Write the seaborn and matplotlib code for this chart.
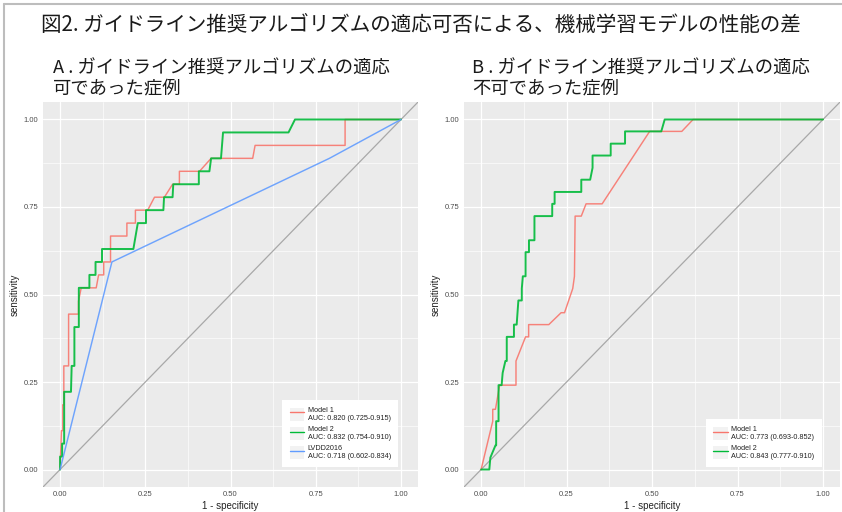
import matplotlib
matplotlib.use("Agg")
import matplotlib.pyplot as plt
import seaborn as sns
import pandas as pd
from matplotlib.lines import Line2D
from matplotlib.patches import Patch


# Titles
main_title = "図2. ガイドライン推奨アルゴリズムの適応可否による、機械学習モデルの性能の差"
title_a = ["A . ガイドライン推奨アルゴリズムの適応", "可であった症例"]
title_b = ["B . ガイドライン推奨アルゴリズムの適応", "不可であった症例"]

# Panel A curves (1 - specificity, sensitivity)
a_m1_fpr = [0, 0.004, 0.008, 0.008, 0.011, 0.011, 0.025, 0.025, 0.054, 0.054,
            0.062, 0.106, 0.113, 0.128, 0.128, 0.148, 0.148, 0.196, 0.196, 0.221,
            0.221, 0.257, 0.277, 0.306, 0.330, 0.350, 0.350, 0.409, 0.443, 0.565,
            0.572, 0.836, 0.836, 1.0]
a_m1_tpr = [0, 0.111, 0.111, 0.185, 0.185, 0.296, 0.296, 0.444, 0.444, 0.481,
            0.519, 0.519, 0.556, 0.556, 0.593, 0.593, 0.667, 0.667, 0.704, 0.704,
            0.741, 0.741, 0.778, 0.778, 0.815, 0.815, 0.852, 0.852, 0.889, 0.889,
            0.926, 0.926, 1.0, 1.0]
a_m2_fpr = [0, 0, 0.006, 0.006, 0.012, 0.012, 0.032, 0.034, 0.042, 0.042,
            0.055, 0.055, 0.086, 0.086, 0.104, 0.104, 0.123, 0.123, 0.215, 0.228,
            0.252, 0.252, 0.303, 0.305, 0.330, 0.332, 0.407, 0.407, 0.438, 0.443,
            0.472, 0.475, 0.478, 0.670, 0.689, 1.0]
a_m2_tpr = [0, 0.037, 0.037, 0.074, 0.074, 0.222, 0.222, 0.296, 0.296, 0.407,
            0.407, 0.519, 0.519, 0.556, 0.556, 0.593, 0.593, 0.630, 0.630, 0.704,
            0.704, 0.741, 0.741, 0.778, 0.778, 0.815, 0.815, 0.852, 0.852, 0.889,
            0.889, 0.926, 0.963, 0.963, 1.0, 1.0]
a_lvdd_fpr = [0, 0.152, 0.79, 1.0]
a_lvdd_tpr = [0, 0.593, 0.889, 1.0]

# Panel B curves
b_m1_fpr = [0, 0.034, 0.034, 0.042, 0.054, 0.102, 0.102, 0.130, 0.139, 0.139,
            0.198, 0.234, 0.244, 0.268, 0.273, 0.275, 0.293, 0.307, 0.354, 0.493,
            0.587, 0.620, 1.0]
b_m1_tpr = [0, 0.138, 0.172, 0.172, 0.241, 0.241, 0.310, 0.379, 0.379, 0.414,
            0.414, 0.448, 0.448, 0.517, 0.552, 0.724, 0.724, 0.759, 0.759, 0.966,
            0.966, 1.0, 1.0]
b_m2_fpr = [0, 0.024, 0.027, 0.042, 0.044, 0.044, 0.051, 0.051, 0.060, 0.063,
            0.071, 0.075, 0.075, 0.096, 0.096, 0.104, 0.109, 0.119, 0.119, 0.122,
            0.130, 0.130, 0.140, 0.140, 0.156, 0.156, 0.208, 0.208, 0.215, 0.215,
            0.293, 0.293, 0.319, 0.326, 0.326, 0.379, 0.379, 0.421, 0.421, 0.527,
            0.537, 1.0]
b_m2_tpr = [0, 0, 0.034, 0.069, 0.069, 0.138, 0.138, 0.241, 0.241, 0.276,
            0.310, 0.310, 0.379, 0.379, 0.414, 0.414, 0.483, 0.483, 0.517, 0.552,
            0.552, 0.621, 0.621, 0.655, 0.655, 0.724, 0.724, 0.759, 0.759, 0.793,
            0.793, 0.828, 0.828, 0.862, 0.897, 0.897, 0.931, 0.931, 0.966, 0.966,
            1.0, 1.0]

# Legend labels
a_labels = ["Model 1\nAUC: 0.820 (0.725-0.915)",
            "Model 2\nAUC: 0.832 (0.754-0.910)",
            "LVDD2016\nAUC: 0.718 (0.602-0.834)"]
b_labels = ["Model 1\nAUC: 0.773 (0.693-0.852)",
            "Model 2\nAUC: 0.843 (0.777-0.910)"]

ticks = [0.00, 0.25, 0.50, 0.75, 1.00]
tick_labels = ["0.00", "0.25", "0.50", "0.75", "1.00"]
minor_ticks = [0.125, 0.375, 0.625, 0.875]

colors = {"Model 1": "#F8766D", "Model 2": "#00BA38", "LVDD2016": "#619CFF"}
widths = {"Model 1": 1.05, "Model 2": 1.4, "LVDD2016": 1.05}


def long_frame(curves):
    frames = []
    for name, fpr, tpr in curves:
        frames.append(pd.DataFrame({"fpr": fpr, "tpr": tpr, "model": name}))
    return pd.concat(frames, ignore_index=True)


def draw_panel(ax, data, labels, legend_x):
    ax.set_facecolor("#EBEBEB")
    ax.axline((0, 0), (1, 1), color="#A8A8A8", lw=0.9, zorder=1)
    names = list(data["model"].unique())
    for n in names:
        sub = data[data["model"] == n]
        sns.lineplot(data=sub, x="fpr", y="tpr", color=colors[n], sort=False,
                     estimator=None, lw=widths[n], alpha=0.9, ax=ax, zorder=3)
    ax.set_xlim(-0.05, 1.05)
    ax.set_ylim(-0.05, 1.05)
    ax.set_xticks(ticks)
    ax.set_xticklabels(tick_labels)
    ax.set_yticks(ticks)
    ax.set_yticklabels(tick_labels)
    ax.set_xticks(minor_ticks, minor=True)
    ax.set_yticks(minor_ticks, minor=True)
    ax.grid(which="major", color="white", lw=0.9)
    ax.grid(which="minor", color="white", lw=0.45)
    ax.set_axisbelow(True)
    ax.tick_params(which="major", length=2, width=0.7, color="#333333",
                   labelsize=5.5, labelcolor="#4D4D4D", pad=1.2)
    ax.tick_params(which="minor", length=0)
    for s in ax.spines.values():
        s.set_visible(False)
    ax.set_xlabel("1 - specificity", fontsize=7, color="#222222", labelpad=1.5)
    ax.set_ylabel("sensitivity", fontsize=7, color="#222222", labelpad=3)

    handles = [(Patch(facecolor="#F2F2F2", edgecolor="none"),
                Line2D([], [], color=colors[n], lw=1.0)) for n in names]
    leg = ax.legend(handles, labels, loc="lower right",
                    bbox_to_anchor=(legend_x, 0.052), borderaxespad=0,
                    fontsize=5.2, frameon=True, fancybox=False,
                    handlelength=2.0, handleheight=2.3, handletextpad=0.5,
                    labelspacing=0.6, borderpad=1.0)
    leg.get_frame().set_facecolor("white")
    leg.get_frame().set_edgecolor("none")
    leg.get_frame().set_alpha(1)
    for t in leg.get_texts():
        t.set_color("#222222")
        t.set_linespacing(1.15)


sns.set_theme(style="darkgrid")
plt.rcParams["font.family"] = ["Liberation Sans", "Noto Sans CJK JP", "DejaVu Sans"]

fig = plt.figure(figsize=(8.42, 5.12), dpi=100)
ax_a = fig.add_axes([0.0511, 0.0488, 0.4454, 0.752])
ax_b = fig.add_axes([0.5511, 0.0488, 0.4466, 0.752])

data_a = long_frame([("Model 1", a_m1_fpr, a_m1_tpr),
                     ("Model 2", a_m2_fpr, a_m2_tpr),
                     ("LVDD2016", a_lvdd_fpr, a_lvdd_tpr)])
data_b = long_frame([("Model 1", b_m1_fpr, b_m1_tpr),
                     ("Model 2", b_m2_fpr, b_m2_tpr)])

draw_panel(ax_a, data_a, a_labels, 0.947)
draw_panel(ax_b, data_b, b_labels, 0.951)

cjk = ["Noto Sans CJK JP", "DejaVu Sans"]
fig.text(41 / 842, 1 - 25 / 512, main_title, fontsize=14.8, family=cjk,
         color="#1A1A1A", ha="left", va="center")
fig.text(53 / 842, 1 - 69 / 512, title_a[0], fontsize=13.2, family=cjk,
         color="#1A1A1A", ha="left", va="center")
fig.text(53 / 842, 1 - 88.5 / 512, title_a[1], fontsize=13.2, family=cjk,
         color="#1A1A1A", ha="left", va="center")
fig.text(472 / 842, 1 - 69 / 512, title_b[0], fontsize=13.2, family=cjk,
         color="#1A1A1A", ha="left", va="center")
fig.text(472 / 842, 1 - 88.5 / 512, title_b[1], fontsize=13.2, family=cjk,
         color="#1A1A1A", ha="left", va="center")

# light frame around the figure (top and left edges)
fig.add_artist(Line2D([4 / 842, 1], [1 - 4 / 512, 1 - 4 / 512],
                      transform=fig.transFigure, color="#BDBDBD", lw=1.5))
fig.add_artist(Line2D([4 / 842, 4 / 842], [0, 1 - 4 / 512],
                      transform=fig.transFigure, color="#BDBDBD", lw=1.5))

fig.savefig("out.png", dpi=100)
